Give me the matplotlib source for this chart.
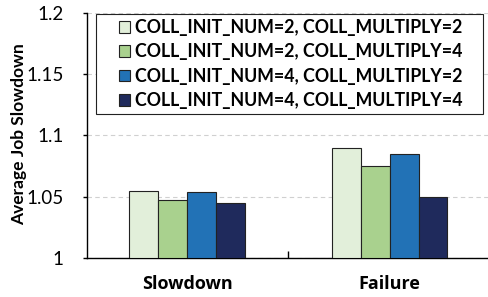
import matplotlib
matplotlib.use("Agg")

import matplotlib.pyplot as plt
from matplotlib.patches import Rectangle
import numpy as np

plt.rcParams["font.family"] = ["Lato", "DejaVu Sans"]

categories = ["Slowdown", "Failure"]
series_labels = [
    "COLL_INIT_NUM=2, COLL_MULTIPLY=2",
    "COLL_INIT_NUM=2, COLL_MULTIPLY=4",
    "COLL_INIT_NUM=4, COLL_MULTIPLY=2",
    "COLL_INIT_NUM=4, COLL_MULTIPLY=4",
]
values = [
    [1.055, 1.090],
    [1.047, 1.075],
    [1.054, 1.085],
    [1.045, 1.050],
]
colors = ["#e2efda", "#a9d18e", "#2272b6", "#1f2a5c"]
yticks = [1, 1.05, 1.1, 1.15, 1.2]
ytick_labels = ["1", "1.05", "1.1", "1.15", "1.2"]

W, H = 488, 297
fig = plt.figure(figsize=(W / 100, H / 100), dpi=100)
ax = fig.add_axes([87 / W, 1 - 258 / H, 401 / W, 245 / H])

x = np.arange(len(categories))
width = 0.143
for i, (vals, lbl, col) in enumerate(zip(values, series_labels, colors)):
    off = (i - 1.5) * width
    ax.bar(x + off, np.array(vals) - 1, width, bottom=1, color=col,
           edgecolor="#222222", linewidth=0.8, label=lbl, zorder=3)

ax.set_ylim(1, 1.2)
ax.set_xlim(-0.494, 1.486)
ax.set_yticks(yticks)
ax.set_yticklabels(ytick_labels, fontsize=13.5)
ax.set_xticks(x)
ax.set_xticklabels(categories, fontsize=13, fontweight="bold",
                   family=["Open Sans", "DejaVu Sans"])
ax.tick_params(axis="x", length=0, pad=12)
ax.set_xticks([0.5], minor=True)
ax.tick_params(axis="x", which="minor", direction="in", length=5, width=1)
ax.tick_params(axis="y", length=3, width=1, pad=14)
ax.set_ylabel("Average Job Slowdown", fontsize=12.5, fontweight="bold")
ax.yaxis.set_label_coords(-0.15, 0.506)

ax.grid(axis="y", color="#d0d0d0", linestyle=(0, (4, 3)), linewidth=0.8, zorder=0)
for s in ["top", "right"]:
    ax.spines[s].set_visible(False)
ax.spines["left"].set_linewidth(1.0)
ax.spines["bottom"].set_linewidth(1.0)

# legend box drawn separately so the padding can match the original
frame = Rectangle((96 / W, 1 - 114 / H), 387 / W, 100 / H, transform=fig.transFigure,
                  facecolor="white", edgecolor="#222222", linewidth=0.8,
                  zorder=4, clip_on=False)
ax.add_patch(frame)
leg = ax.legend(loc="upper left", bbox_to_anchor=(119 / W, 1 - 19 / H),
                bbox_transform=fig.transFigure,
                prop={"weight": "bold", "size": 12.8}, frameon=False,
                handlelength=0.62, handleheight=0.62, handletextpad=0.28,
                labelspacing=0.42, borderpad=0, borderaxespad=0)
leg.set_zorder(5)

plt.savefig("out.png", dpi=100)
